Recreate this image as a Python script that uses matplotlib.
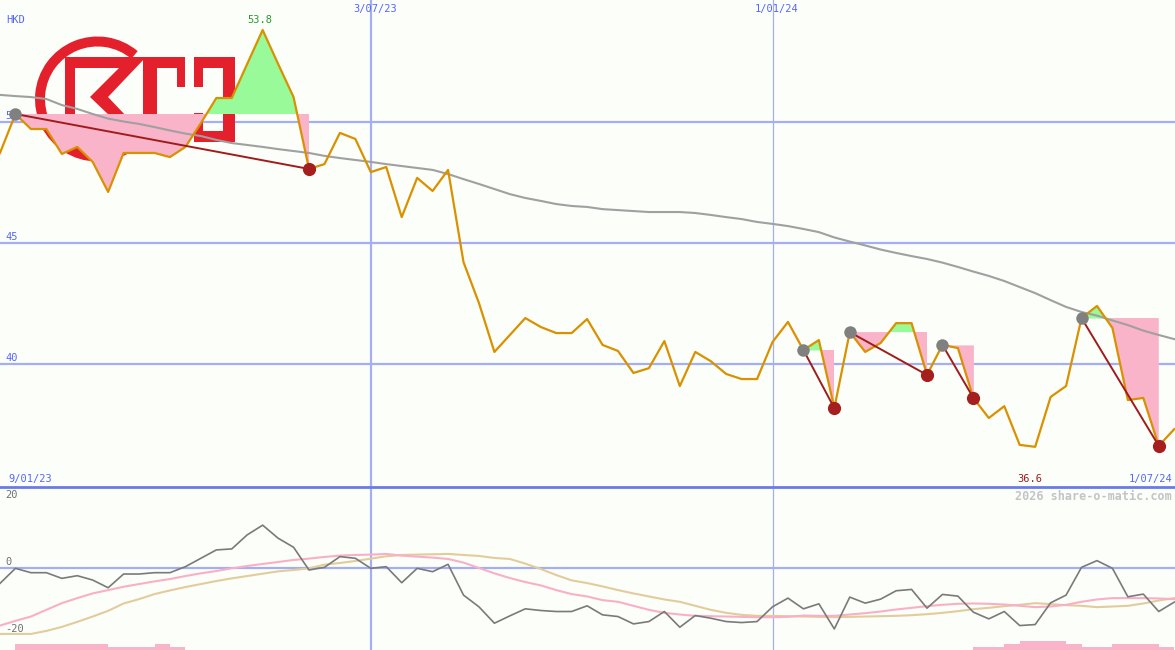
import numpy as np
import pandas as pd
import matplotlib
matplotlib.use('Agg')
import matplotlib.pyplot as plt
from matplotlib import patches, transforms as mtransforms
from matplotlib.lines import Line2D

# weekly closes, HKD
dates = pd.date_range('2023-01-16', periods=77, freq='7D')
price = np.array([
    48.72, 50.33, 49.71, 49.71, 48.68, 48.97, 48.35, 47.11, 48.72, 48.72,
    48.72, 48.55, 48.97, 49.95, 50.99, 50.99, 52.40, 53.80, 52.40, 51.03,
    48.06, 48.26, 49.55, 49.30, 47.93, 48.14, 46.07, 47.69, 47.15, 48.02,
    44.21, 42.52, 40.50, 41.20, 41.90, 41.53, 41.28, 41.28, 41.86, 40.79,
    40.54, 39.63, 39.83, 40.95, 39.09, 40.50, 40.12, 39.59, 39.38, 39.38,
    40.91, 41.74, 40.58, 40.99, 38.18, 41.32, 40.50, 40.87, 41.69, 41.69,
    39.55, 40.79, 40.66, 38.60, 37.77, 38.26, 36.66, 36.58, 38.64, 39.09,
    41.90, 42.40, 41.49, 38.51, 38.60, 36.62, 37.31])
long_ma = np.array([
    51.12, 51.07, 51.03, 50.95, 50.70, 50.54, 50.33, 50.14, 50.02, 49.92,
    49.79, 49.65, 49.52, 49.42, 49.26, 49.13, 49.05, 48.97, 48.88, 48.80,
    48.72, 48.60, 48.51, 48.43, 48.35, 48.26, 48.18, 48.10, 48.02, 47.85,
    47.64, 47.44, 47.23, 47.02, 46.86, 46.74, 46.61, 46.53, 46.49, 46.40,
    46.36, 46.32, 46.28, 46.28, 46.28, 46.24, 46.16, 46.07, 45.99, 45.87,
    45.79, 45.70, 45.58, 45.45, 45.23, 45.06, 44.90, 44.73, 44.59, 44.46,
    44.34, 44.19, 44.01, 43.82, 43.64, 43.43, 43.18, 42.93, 42.64, 42.36,
    42.15, 42.00, 41.80, 41.61, 41.38, 41.20, 41.03])
peaks = [1, 52, 55, 61, 70]
troughs = [20, 54, 60, 63, 75]

# lower panel oscillator
osc = np.array([
    -4.6, -0.1, -1.4, -1.4, -3.1, -2.3, -3.6, -5.9, -1.8, -1.8,
    -1.4, -1.4, 0.4, 2.9, 5.4, 5.7, 9.9, 12.8, 8.9, 6.2,
    -0.6, 0.2, 3.4, 2.9, -0.1, 0.4, -4.4, -0.1, -1.1, 1.1,
    -8.1, -11.6, -16.5, -14.3, -12.2, -12.7, -13.0, -13.0, -11.3, -14.0,
    -14.5, -16.7, -16.0, -13.0, -17.7, -14.2, -15.0, -16.0, -16.3, -16.0,
    -11.6, -9.0, -12.2, -10.7, -18.2, -8.7, -10.5, -9.3, -6.8, -6.4,
    -12.0, -7.9, -8.4, -13.2, -15.2, -13.0, -17.2, -16.9, -10.4, -8.1,
    0.2, 2.2, -0.1, -8.6, -7.8, -13.0, -10.2])
osc_fast = np.array([
    -17.2, -15.8, -14.5, -12.5, -10.5, -9.0, -7.6, -6.6, -5.6, -4.8,
    -4.0, -3.3, -2.4, -1.6, -0.9, -0.1, 0.6, 1.2, 1.8, 2.4,
    2.8, 3.3, 3.7, 3.9, 4.0, 4.2, 3.7, 3.4, 3.1, 2.7,
    1.6, 0.0, -1.6, -3.0, -4.2, -5.2, -6.6, -7.8, -8.5, -9.6,
    -10.1, -11.3, -12.5, -13.4, -13.9, -14.3, -14.4, -14.5, -14.6, -14.7,
    -14.7, -14.6, -14.2, -14.3, -14.3, -13.9, -13.5, -13.0, -12.4, -11.9,
    -11.4, -11.0, -10.7, -10.6, -10.7, -10.9, -11.3, -11.7, -11.5, -11.0,
    -10.1, -9.4, -9.0, -9.0, -9.0, -9.1, -9.3])
osc_slow = np.array([
    -19.7, -19.7, -19.7, -18.8, -17.6, -16.1, -14.5, -12.8, -10.6, -9.3,
    -7.8, -6.7, -5.7, -4.8, -3.9, -3.1, -2.4, -1.7, -1.0, -0.6,
    -0.1, 1.0, 1.5, 2.1, 2.8, 3.5, 3.9, 4.0, 4.1, 4.2,
    3.9, 3.6, 3.0, 2.7, 1.3, -0.3, -2.1, -3.7, -4.5, -5.5,
    -6.6, -7.6, -8.5, -9.4, -10.1, -11.3, -12.5, -13.4, -14.0, -14.3,
    -14.3, -14.4, -14.5, -14.6, -14.7, -14.6, -14.5, -14.4, -14.3, -14.1,
    -13.8, -13.4, -12.9, -12.3, -11.9, -11.4, -11.0, -10.5, -10.8, -11.1,
    -11.3, -11.7, -11.5, -11.3, -10.6, -9.7, -9.0])
# small bars at the foot of the lower panel (one per week interval)
foot_bars = np.array([
    0, 1.8, 1.8, 1.8, 1.8, 1.8, 1.8, 0.9, 0.9, 0.9,
    1.8, 0.9, 0, 0, 0, 0, 0, 0, 0, 0,
    0, 0, 0, 0, 0, 0, 0, 0, 0, 0,
    0, 0, 0, 0, 0, 0, 0, 0, 0, 0,
    0, 0, 0, 0, 0, 0, 0, 0, 0, 0,
    0, 0, 0, 0, 0, 0, 0, 0, 0, 0,
    0, 0, 0, 0.9, 0.9, 1.8, 2.7, 2.7, 2.7, 1.8,
    0.9, 0.9, 1.8, 1.8, 1.8, 0.9])
marker_dates = ['2023-07-03', '2024-01-01']
marker_labels = ['3/07/23', '1/01/24']
start_label, end_label = '9/01/23', '1/07/24'
price_levels = [40, 45, 50]
osc_levels = [20, 0, -20]

BG = '#fcfefa'
GRID = '#a4aef2'
BLUE_TXT = '#5566ff'
PINK = '#f9b4c9'
GREEN = '#98fa98'
DARKRED = '#a01c1c'
LOGO = '#e3202c'
FONT = 'DejaVu Sans Mono'

fig = plt.figure(figsize=(11.75, 6.5), dpi=100, facecolor=BG)
split = 163 / 650
ax = fig.add_axes([0, split, 1, 1 - split])
ax2 = fig.add_axes([0, 0, 1, split], sharex=ax)
for a in (ax, ax2):
    a.set_axis_off()

ax.set_xlim(dates[0], dates[0] + pd.Timedelta(weeks=76.05))
ax.set_ylim(34.92, 55.04)
ax2.set_ylim(-24.5, 24.2)

# grid
for v in price_levels:
    ax.axhline(v, color=GRID, lw=1.6, zorder=0.5)
ax2.axhline(0, color=GRID, lw=1.6, zorder=0.5)
for d, w in zip(marker_dates, [1.6, 0.9]):
    ax.axvline(pd.Timestamp(d), color=GRID, lw=w, zorder=0.5)
    ax2.axvline(pd.Timestamp(d), color=GRID, lw=w, zorder=0.5)
fig.add_artist(Line2D([0, 1], [split, split], color='#6a7be8', lw=2))

# logo, drawn in pixel coordinates (y down)
px = mtransforms.Affine2D().scale(0.01, -0.01).translate(0, 6.5) + fig.dpi_scale_trans
logo_parts = [
    patches.Wedge((97.5, 99), 62.5, 60, 310, width=10),
    patches.Rectangle((65, 57), 10, 63),
    patches.Rectangle((65, 57), 68, 11),
    patches.Polygon([(130, 57), (146, 57), (108, 97), (128, 118), (112, 118), (90, 97)]),
    patches.Rectangle((143, 57), 42, 11),
    patches.Rectangle((143, 57), 14, 63),
    patches.Rectangle((177, 57), 8, 30),
    patches.Rectangle((194, 57), 41, 11),
    patches.Rectangle((194, 57), 9, 30),
    patches.Rectangle((223, 57), 12, 85),
    patches.Rectangle((194, 131), 41, 11),
    patches.Rectangle((194, 113), 9, 29),
]
for p in logo_parts:
    p.set_transform(px)
    p.set_facecolor(LOGO)
    p.set_edgecolor('none')
    p.set_zorder(1)
    ax.add_patch(p)

# signal fills and lines
for s, e in zip(peaks, troughs):
    xs = dates[s:e + 1]
    ys = price[s:e + 1]
    lvl = price[s]
    ax.fill_between(xs, lvl, ys, where=ys <= lvl, interpolate=True, color=PINK, lw=0, zorder=2)
    ax.fill_between(xs, lvl, ys, where=ys >= lvl, interpolate=True, color=GREEN, lw=0, zorder=2)
    ax.plot([dates[s], dates[e]], [price[s], price[e]], color=DARKRED, lw=1.4, zorder=5)

ax.plot(dates, long_ma, color='#a0a0a0', lw=1.5, zorder=3)
ax.plot(dates, price, color='#d99100', lw=1.6, zorder=4)
ax.plot(dates[peaks], price[peaks], 'o', color='#808080', ms=9, mec='none', zorder=6)
ax.plot(dates[troughs], price[troughs], 'o', color='#a51f1f', ms=9.5, mec='none', zorder=6)

# main panel texts
txt = dict(family=FONT, fontsize=7.5)
ax.annotate('HKD', xy=(0, 1), xycoords='axes fraction', xytext=(6, -20),
            textcoords='offset pixels', va='center', ha='left', color=BLUE_TXT, **txt)
for v in price_levels:
    ax.annotate(str(v), xy=(0, v), xycoords=('axes fraction', 'data'), xytext=(5, 1),
                textcoords='offset pixels', va='bottom', ha='left', color=BLUE_TXT,
                zorder=2.5, **txt)
for d, lab in zip(marker_dates, marker_labels):
    ax.annotate(lab, xy=(pd.Timestamp(d), 1), xycoords=('data', 'axes fraction'),
                xytext=(4, -9), textcoords='offset pixels', va='center', ha='center',
                color=BLUE_TXT, **txt)
imax, imin = int(price.argmax()), int(price.argmin())
ax.annotate(f'{price[imax]:.1f}', xy=(dates[imax], price[imax]), xytext=(-3, 5),
            textcoords='offset pixels', va='bottom', ha='center', color='#2a9a2a', **txt)
ax.annotate(f'{price[imin]:.1f}', xy=(dates[imin], 0), xycoords=('data', 'axes fraction'),
            xytext=(-5, 3), textcoords='offset pixels', va='bottom', ha='center',
            color=DARKRED, **txt)
ax.annotate(start_label, xy=(0, 0), xycoords='axes fraction', xytext=(8, 3),
            textcoords='offset pixels', va='bottom', ha='left', color=BLUE_TXT, **txt)
ax.annotate(end_label, xy=(1, 0), xycoords='axes fraction', xytext=(-3, 3),
            textcoords='offset pixels', va='bottom', ha='right', color=BLUE_TXT, **txt)

# lower panel
ax2.bar(dates[:-1], foot_bars, width=7, align='edge', bottom=-24.5, color=PINK, lw=0, zorder=1)
ax2.plot(dates, osc_slow, color='#e3cc9c', lw=1.5, zorder=2)
ax2.plot(dates, osc_fast, color='#f9b0c6', lw=1.5, zorder=3)
ax2.plot(dates, osc, color='#7a7a7a', lw=1.2, zorder=4)
for v in osc_levels:
    ax2.annotate(str(v), xy=(0, v), xycoords=('axes fraction', 'data'), xytext=(5, 1),
                 textcoords='offset pixels', va='bottom', ha='left', color='#707070', **txt)
ax2.annotate('2026 share-o-matic.com', xy=(1, 1), xycoords='axes fraction', xytext=(-3, -9),
             textcoords='offset pixels', va='center', ha='right', color='#c4c4c4',
             family=FONT, fontsize=8.5, fontweight='bold')

fig.savefig('out.png', dpi=100, facecolor=BG)
